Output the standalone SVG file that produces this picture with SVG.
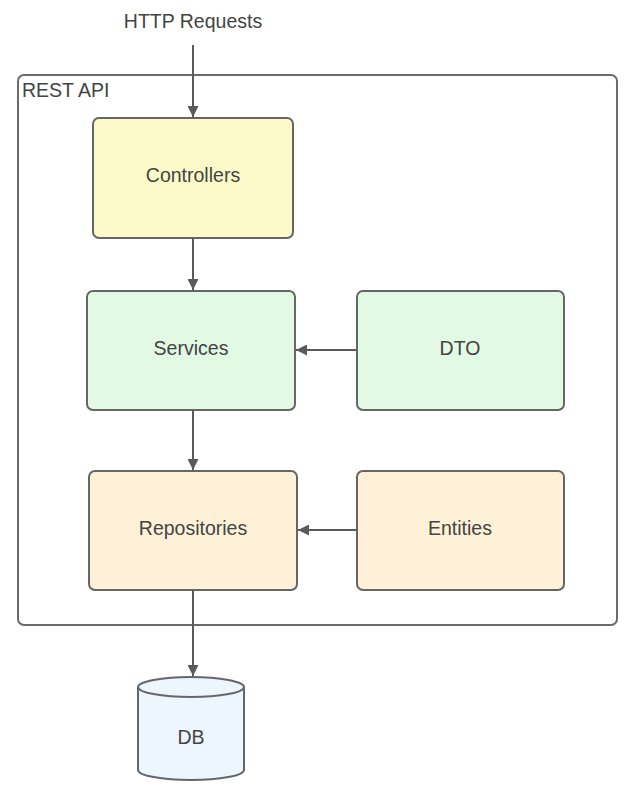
<svg xmlns="http://www.w3.org/2000/svg" width="634" height="797" viewBox="0 0 634 797">
<style>
text{font-family:"Liberation Sans",Arial,sans-serif;font-size:19.5px;fill:#444;}
.node{stroke:#666;stroke-width:2;}
.edge{stroke:#5a5a5a;stroke-width:2;fill:none;}
</style>
<defs>
<marker id="arr" viewBox="0 0 10 10" refX="10" refY="5" markerWidth="11" markerHeight="11" markerUnits="userSpaceOnUse" orient="auto">
<path d="M0,0 L10,5 L0,10 z" fill="#5a5a5a"/>
</marker>
</defs>
<rect width="634" height="797" fill="#fff"/>
<g id="container">
<rect x="18" y="75" width="599" height="550" rx="6" fill="none" stroke="#6a6a6a" stroke-width="2"/>
<text x="22" y="97">REST API</text>
</g>
<g id="http"><text x="193" y="28" text-anchor="middle">HTTP Requests</text></g>
<g id="controllers">
<rect class="node" x="93" y="118" width="200" height="120" rx="6" fill="#fdfac9"/>
<text x="193" y="182" text-anchor="middle">Controllers</text>
</g>
<g id="services">
<rect class="node" x="87" y="291" width="208" height="119" rx="6" fill="#e2f9e3"/>
<text x="191" y="355" text-anchor="middle">Services</text>
</g>
<g id="dto">
<rect class="node" x="357" y="291" width="207" height="119" rx="6" fill="#e2f9e3"/>
<text x="460" y="355" text-anchor="middle">DTO</text>
</g>
<g id="repositories">
<rect class="node" x="89" y="471" width="208" height="119" rx="6" fill="#fef1d8"/>
<text x="193" y="535" text-anchor="middle">Repositories</text>
</g>
<g id="entities">
<rect class="node" x="357" y="471" width="207" height="119" rx="6" fill="#fef1d8"/>
<text x="460" y="535" text-anchor="middle">Entities</text>
</g>
<g id="db">
<path class="node" d="M138,687 L138,770 A53,10 0 0 0 244,770 L244,687 A53,10 0 0 0 138,687 Z" fill="#edf5fe"/>
<path class="node" d="M138,687 A53,10 0 0 0 244,687" fill="none"/>
<text x="191" y="744" text-anchor="middle">DB</text>
</g>
<g id="connectors">
<line class="edge" x1="193" y1="45" x2="193" y2="117" marker-end="url(#arr)"/>
<line class="edge" x1="193" y1="238" x2="193" y2="290" marker-end="url(#arr)"/>
<line class="edge" x1="193" y1="410" x2="193" y2="470" marker-end="url(#arr)"/>
<line class="edge" x1="357" y1="350" x2="296" y2="350" marker-end="url(#arr)"/>
<line class="edge" x1="357" y1="530" x2="298" y2="530" marker-end="url(#arr)"/>
<line class="edge" x1="193" y1="590" x2="193" y2="676" marker-end="url(#arr)"/>
</g>
</svg>
